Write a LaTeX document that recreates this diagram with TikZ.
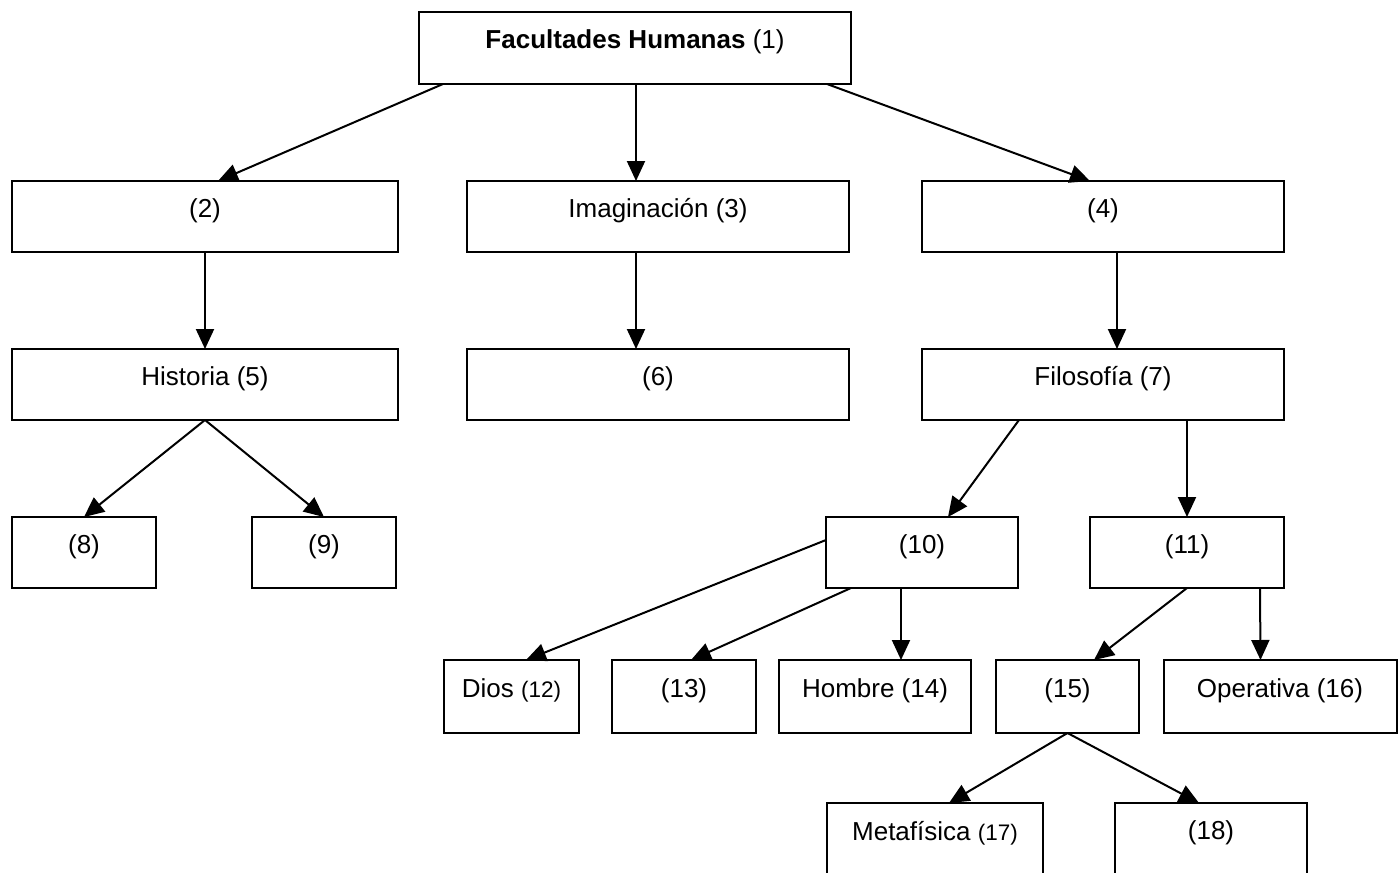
\documentclass[tikz,border=0pt]{standalone}
\usepackage{fontspec}
\newfontfamily\af{Liberation Sans}
\usetikzlibrary{arrows.meta,calc}
\tikzset{
  box/.style={draw, line width=2pt, rectangle, inner sep=0pt, outer sep=0pt},
  txt/.style={font=\af\fontsize{26}{30}\selectfont, inner sep=0pt},
  lbl/.style={txt, yshift=6pt},
  arr/.style={line width=2pt, -{Triangle[length=20pt,width=18pt]}}
}
\newcommand{\smn}[1]{{\fontsize{22.5}{26}\selectfont #1}}
\begin{document}
\begin{tikzpicture}[x=1pt,y=-1pt]
\useasboundingbox (0,0) rectangle (1398,873);
\clip (0,0) rectangle (1398,873);
% row 1
\node[box, minimum width=432pt, minimum height=72pt, label={[lbl]center:{\bfseries Facultades Humanas} (1)}] (n1) at (635,48) {};
% row 2
\node[box, minimum width=386pt, minimum height=71pt, label={[lbl]center:(2)}] (n2) at (205,216.5) {};
\node[box, minimum width=382pt, minimum height=71pt, label={[lbl]center:Imaginación (3)}] (n3) at (658,216.5) {};
\node[box, minimum width=362pt, minimum height=71pt, label={[lbl]center:(4)}] (n4) at (1103,216.5) {};
% row 3
\node[box, minimum width=386pt, minimum height=71pt, label={[lbl]center:Historia (5)}] (n5) at (205,384.5) {};
\node[box, minimum width=382pt, minimum height=71pt, label={[lbl]center:(6)}] (n6) at (658,384.5) {};
\node[box, minimum width=362pt, minimum height=71pt, label={[lbl]center:Filosofía (7)}] (n7) at (1103,384.5) {};
% row 4
\node[box, minimum width=144pt, minimum height=71pt, label={[lbl]center:(8)}] (n8) at (84,552.5) {};
\node[box, minimum width=144pt, minimum height=71pt, label={[lbl]center:(9)}] (n9) at (324,552.5) {};
\node[box, minimum width=192pt, minimum height=71pt, label={[lbl]center:(10)}] (n10) at (922,552.5) {};
\node[box, minimum width=194pt, minimum height=71pt, label={[lbl]center:(11)}] (n11) at (1187,552.5) {};
% row 5
\node[box, minimum width=135pt, minimum height=73pt, label={[lbl]center:Dios \smn{(12)}}] (n12) at (511.5,696.5) {};
\node[box, minimum width=144pt, minimum height=73pt, label={[lbl]center:(13)}] (n13) at (684,696.5) {};
\node[box, minimum width=192pt, minimum height=73pt, label={[lbl]center:Hombre (14)}] (n14) at (875,696.5) {};
\node[box, minimum width=143pt, minimum height=73pt, label={[lbl]center:(15)}] (n15) at (1067.5,696.5) {};
\node[box, minimum width=233pt, minimum height=73pt, label={[lbl]center:Operativa (16)}] (n16) at (1280,696.5) {};
% row 6 (cut at bottom)
\node[box, minimum width=216pt, minimum height=100pt] (n17) at (935,853) {};
\node[txt] (t17) at (935,833) {Metafísica \smn{(17)}};
\node[box, minimum width=192pt, minimum height=100pt] (n18) at (1211,853) {};
\node[txt] (t18) at (1211,833) {(18)};
% connectors
\draw[arr] ($(n1.south west)+(24,0)$) -- ($(n2.north west)+(206,0)$);
\draw[arr] ($(n1.south west)+(217,0)$) -- ($(n3.north west)+(169,0)$);
\draw[arr] ($(n1.south east)+(-24,0)$) -- ($(n4.north west)+(168,0)$);
\draw[arr] (n2.south) -- (n5.north);
\draw[arr] ($(n3.south west)+(169,0)$) -- ($(n6.north west)+(169,0)$);
\draw[arr] ($(n4.south west)+(195,0)$) -- ($(n7.north west)+(195,0)$);
\draw[arr] (n5.south) -- (n8.north);
\draw[arr] (n5.south) -- (n9.north);
\draw[arr] ($(n7.south west)+(97,0)$) -- ($(n10.north west)+(122,0)$);
\draw[arr] ($(n7.south west)+(265,0)$) -- (n11.north);
\draw[arr] ($(n10.north west)+(0,23)$) -- ($(n12.north west)+(82,0)$);
\draw[arr] ($(n10.south west)+(25,0)$) -- ($(n13.north west)+(79,0)$);
\draw[arr] ($(n10.south west)+(75,0)$) -- ($(n14.north west)+(122,0)$);
\draw[arr] (n11.south) -- ($(n15.north west)+(98,0)$);
\draw[arr] ($(n11.south west)+(170,0)$) -- ($(n16.north west)+(97,0)$);
\draw[arr] (n15.south) -- ($(n17.north west)+(122,0)$);
\draw[arr] (n15.south) -- ($(n18.north west)+(84,0)$);
\end{tikzpicture}
\end{document}
